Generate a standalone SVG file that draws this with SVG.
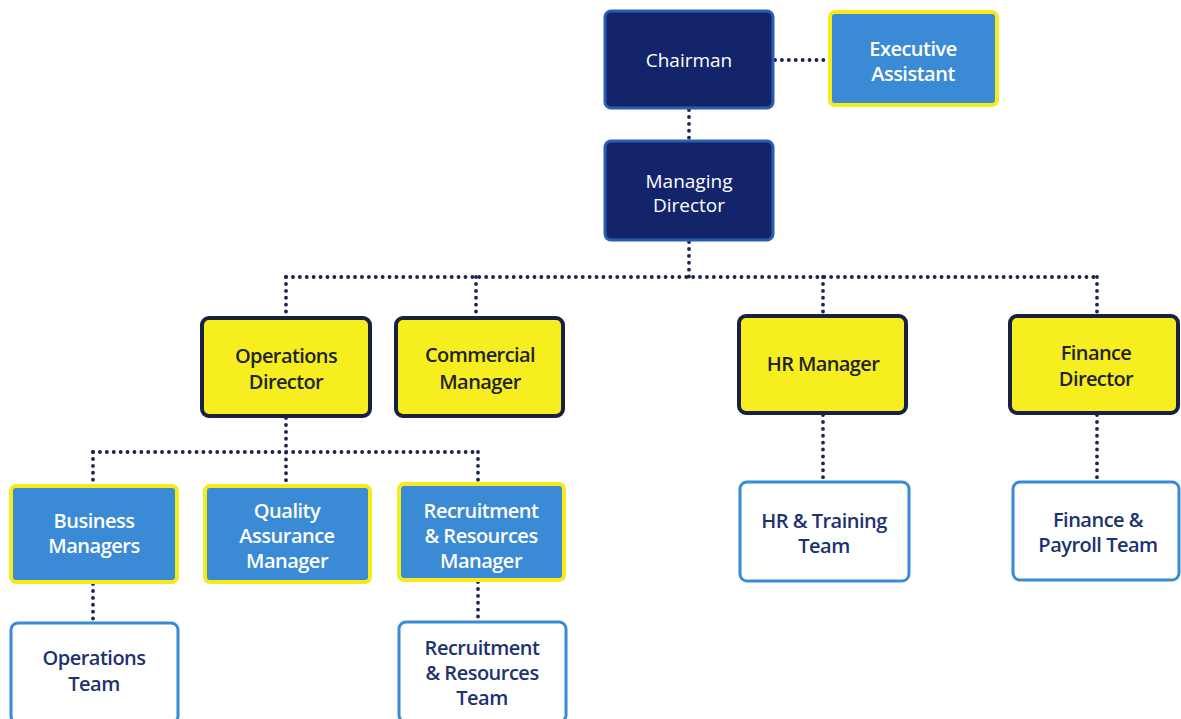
<svg xmlns="http://www.w3.org/2000/svg" width="1181" height="719" viewBox="0 0 1181 719">
<style>
.dark{fill:#14246a;stroke:#2a5fb0;stroke-width:3}
.blue{fill:#3a8ad6;stroke:#f5ea1c;stroke-width:4}
.yel{fill:#f7ee1f;stroke:#1a2040;stroke-width:4}
.team{fill:#ffffff;stroke:#3a8ad6;stroke-width:3}
text{font-family:"Open Sans","Noto Sans","Liberation Sans",sans-serif;font-size:20px;text-anchor:middle}
.tw{fill:#ffffff;font-size:19px}
.ty{fill:#1f2326;font-weight:600;letter-spacing:-0.6px}
.tb{fill:#ffffff;font-weight:600;letter-spacing:-0.5px}
.tt{fill:#1d3270;font-weight:600;letter-spacing:-0.5px}
.dot{fill:none;stroke:#1b2550;stroke-width:3.8;stroke-linecap:round;stroke-dasharray:0.1 6.8}
</style>
<g id="connectors">
<path class="dot" d="M775 60 H830"/>
<path class="dot" d="M689 110 V140"/>
<path class="dot" d="M689 242 V277"/>
<path class="dot" d="M286 277 H1097"/>
<path class="dot" d="M286 277 V316"/>
<path class="dot" d="M476 277 V316"/>
<path class="dot" d="M823 277 V314"/>
<path class="dot" d="M1097 277 V314"/>
<path class="dot" d="M286 418 V484"/>
<path class="dot" d="M93 452 H478"/>
<path class="dot" d="M93 452 V484"/>
<path class="dot" d="M478 452 V482"/>
<path class="dot" d="M93 584 V621"/>
<path class="dot" d="M478 582 V620"/>
<path class="dot" d="M823 415 V480"/>
<path class="dot" d="M1097 415 V480"/>
</g>
<g id="chairman"><rect class="dark" x="605" y="11" width="168" height="97" rx="6"/><text class="tw" x="689" y="67">Chairman</text></g>
<g id="exec-assistant"><rect class="blue" x="830" y="12" width="167" height="93" rx="5"/><text class="tb" x="913" y="56">Executive</text><text class="tb" x="913" y="81">Assistant</text></g>
<g id="managing-director"><rect class="dark" x="605" y="141" width="168" height="99" rx="6"/><text class="tw" x="689" y="188">Managing</text><text class="tw" x="689" y="212">Director</text></g>
<g id="operations-director"><rect class="yel" x="202" y="318" width="168" height="98" rx="7"/><text class="ty" x="286" y="363">Operations</text><text class="ty" x="286" y="389">Director</text></g>
<g id="commercial-manager"><rect class="yel" x="396" y="318" width="167" height="98" rx="7"/><text class="ty" x="480" y="362">Commercial</text><text class="ty" x="480" y="389">Manager</text></g>
<g id="hr-manager"><rect class="yel" x="739" y="316" width="167" height="97" rx="7"/><text class="ty" x="823" y="371">HR Manager</text></g>
<g id="finance-director"><rect class="yel" x="1010" y="316" width="168" height="97" rx="7"/><text class="ty" x="1096" y="360">Finance</text><text class="ty" x="1096" y="386">Director</text></g>
<g id="business-managers"><rect class="blue" x="11" y="486" width="166" height="96" rx="5"/><text class="tb" x="94" y="528">Business</text><text class="tb" x="94" y="553">Managers</text></g>
<g id="qa-manager"><rect class="blue" x="205" y="486" width="165" height="96" rx="5"/><text class="tb" x="287" y="518">Quality</text><text class="tb" x="287" y="543">Assurance</text><text class="tb" x="287" y="568">Manager</text></g>
<g id="rr-manager"><rect class="blue" x="399" y="484" width="165" height="96" rx="5"/><text class="tb" x="481" y="518">Recruitment</text><text class="tb" x="481" y="543">&amp; Resources</text><text class="tb" x="481" y="568">Manager</text></g>
<g id="operations-team"><rect class="team" x="11" y="623" width="167" height="100" rx="7"/><text class="tt" x="94" y="665">Operations</text><text class="tt" x="94" y="691">Team</text></g>
<g id="rr-team"><rect class="team" x="399" y="622" width="167" height="100" rx="7"/><text class="tt" x="482" y="655">Recruitment</text><text class="tt" x="482" y="680">&amp; Resources</text><text class="tt" x="482" y="705">Team</text></g>
<g id="hr-training-team"><rect class="team" x="740" y="482" width="169" height="99" rx="7"/><text class="tt" x="824" y="528">HR &amp; Training</text><text class="tt" x="824" y="553">Team</text></g>
<g id="finance-payroll-team"><rect class="team" x="1013" y="482" width="166" height="98" rx="7"/><text class="tt" x="1098" y="527">Finance &amp;</text><text class="tt" x="1098" y="552">Payroll Team</text></g>
</svg>
